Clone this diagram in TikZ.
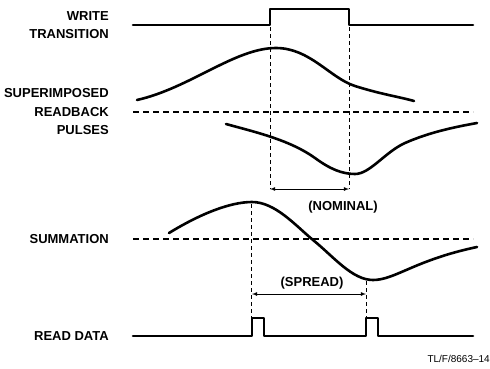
\documentclass[tikz,border=0pt]{standalone}
\usepackage{fontspec}
\setmainfont{Liberation Sans}
\usetikzlibrary{arrows}
\tikzstyle{siglabel}=[anchor=east,inner sep=0pt,align=right,font=\bfseries\fontsize{13}{18.5}\selectfont]
\tikzstyle{gaplabel}=[font=\bfseries\fontsize{13}{15}\selectfont]
\tikzstyle{signal}=[draw,line width=2.6pt,line join=round,line cap=round]
\tikzstyle{zeroline}=[draw,line width=2.6pt,dash pattern=on 6pt off 4pt]
\tikzstyle{marker}=[draw,line width=0.7pt,dash pattern=on 4pt off 3pt]
\tikzstyle{gap}=[draw,line width=0.8pt,<->,>=latex]

\begin{document}
\begin{tikzpicture}[x=1pt,y=-1pt]
    \useasboundingbox (0,0) rectangle (490,368);

    % labels on the left
    \node[siglabel] (write) at (109,25) {WRITE\\TRANSITION};
    \node[siglabel] (readback) at (109,112) {SUPERIMPOSED\\READBACK\\PULSES};
    \node[siglabel] (summ) at (109,239) {SUMMATION};
    \node[siglabel] (rdata) at (109,336) {READ DATA};
    \node[anchor=east,inner sep=0pt,font=\fontsize{10}{12}\selectfont] (fig) at (490,359) {TL/F/8663--14};

    % write transition
    \path[signal] (133,25) -- (270,25) -- (270,9) -- (349,9) -- (349,25) -- (473,25);

    % superimposed readback pulses
    \path[zeroline] (133,112) -- (473,112);
    \path[signal] (137,100) .. controls (190,88) and (235,48) .. (276,48)
        .. controls (310,48) and (330,78) .. (355,86)
        .. controls (380,94) and (400,97) .. (414,101);
    \path[signal] (226,124) .. controls (255,132) and (290,140) .. (315,158)
        .. controls (330,169) and (342,174) .. (355,174)
        .. controls (370,174) and (385,152) .. (405,143)
        .. controls (430,132) and (455,127) .. (477,123);

    % nominal spacing
    \coordinate (n1) at (270,189);
    \coordinate (n2) at (349,189);
    \foreach \x in {270,349}
        \path[marker] (\x,27) -- (\x,189);
    \path[gap] (n1) -- (n2);
    \node[gaplabel] (nominal) at (343,207) {(NOMINAL)};

    % summation
    \path[zeroline] (133,239) -- (473,239);
    \path[signal] (169,233) .. controls (200,214) and (230,202) .. (252,202)
        .. controls (275,202) and (295,225) .. (313,240)
        .. controls (333,256) and (352,280) .. (373,280)
        .. controls (395,280) and (415,260) .. (477,247);

    % spread
    \coordinate (s1) at (252,294);
    \coordinate (s2) at (366,294);
    \path[marker] (251,204) -- (251,318);
    \path[marker] (366,281) -- (366,318);
    \path[gap] (s1) -- (s2);
    \node[gaplabel] (spread) at (312,283) {(SPREAD)};

    % read data
    \path[signal] (133,336) -- (252,336) -- (252,318) -- (264,318) -- (264,336) -- (366,336) -- (366,318) -- (378,318) -- (378,336) -- (473,336);
\end{tikzpicture}
\end{document}
